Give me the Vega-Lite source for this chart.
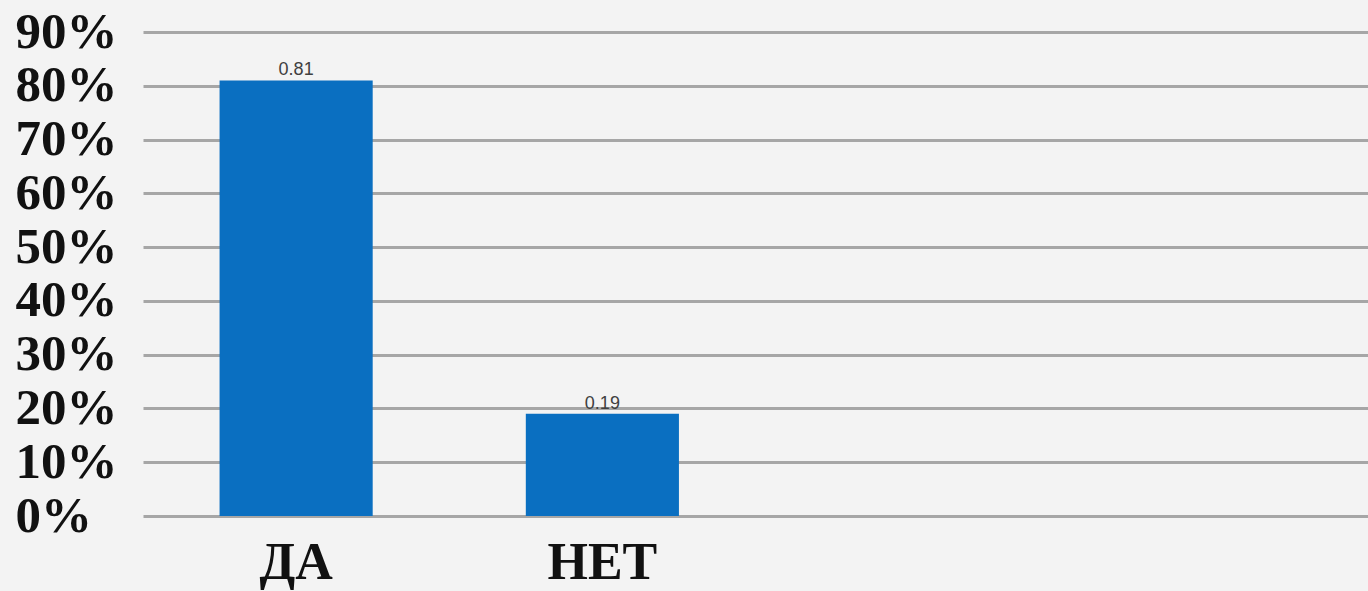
{
  "$schema": "https://vega.github.io/schema/vega-lite/v6.json",
  "autosize": "none",
  "width": 1225,
  "height": 484,
  "padding": {"left": 143, "top": 32, "right": 0, "bottom": 75},
  "background": "#f3f3f3",
  "config": {"view": {"stroke": null}},
  "data": {"values": [
    {"answer": "ДА", "share": 0.81},
    {"answer": "НЕТ", "share": 0.19}
  ]},
  "encoding": {
    "x": {
      "field": "answer", "type": "nominal", "sort": null,
      "scale": {"domain": ["ДА", "НЕТ", "·1", "·2"], "paddingInner": 0.5, "paddingOuter": 0.25},
      "axis": {
        "title": null, "domain": false, "ticks": false, "labelAngle": 0,
        "labelFont": "Liberation Serif", "labelFontWeight": "bold", "labelFontSize": 52,
        "labelColor": "#111111", "labelPadding": 21, "labelBaseline": "top",
        "labelOverlap": false,
        "labelExpr": "indexof(datum.label, '·') === 0 ? '' : datum.label"
      }
    },
    "y": {
      "field": "share", "type": "quantitative",
      "scale": {"domain": [0, 0.9], "nice": false},
      "axis": {
        "title": null, "domain": false, "ticks": false, "tickSize": 0,
        "values": [0, 0.1, 0.2, 0.3, 0.4, 0.5, 0.6, 0.7, 0.8, 0.9],
        "format": ".0%", "labelAlign": "left", "labelPadding": 128,
        "labelOverlap": false, "labelBound": false,
        "labelFont": "Liberation Serif", "labelFontWeight": "bold", "labelFontSize": 51,
        "labelColor": "#111111", "labelBaseline": "middle",
        "grid": true, "gridColor": "#a6a6a6", "gridWidth": 3, "gridOpacity": 1
      }
    }
  },
  "layer": [
    {"mark": {"type": "bar", "color": "#0a6fc1"}},
    {
      "mark": {"type": "text", "dy": -10, "font": "Liberation Sans", "fontSize": 18, "color": "#404040"},
      "encoding": {"text": {"field": "share", "type": "quantitative", "format": ".2f"}}
    }
  ]
}
